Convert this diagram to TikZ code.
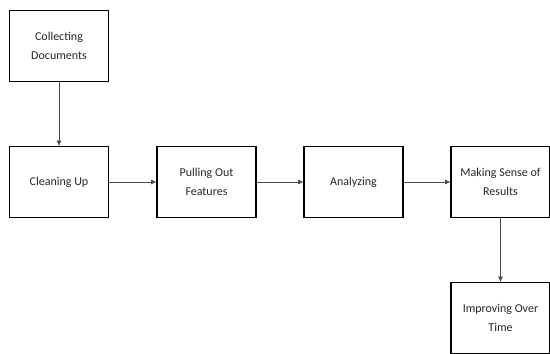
\documentclass[tikz,border=0pt]{standalone}
\usepackage{fontspec}
\setmainfont{Carlito}
\usetikzlibrary{arrows.meta}
\tikzset{
  stepbox/.style={draw=black, line width=1.8pt, minimum width=99pt, minimum height=71pt, align=center, inner sep=0pt, font=\fontsize{12}{19.5}\selectfont, text=black!85},
  flow/.style={draw=black!70, line width=0.7pt, -{Triangle[length=5pt,width=4.5pt]}}
}
\begin{document}
\begin{tikzpicture}[x=1pt,y=-1pt]
\useasboundingbox (0,0) rectangle (550,354);
\node[stepbox] (collect) at (59,46) {Collecting\\Documents};
\node[stepbox] (clean) at (59,182) {Cleaning Up};
\node[stepbox] (pull) at (206.5,182) {Pulling Out\\Features};
\node[stepbox] (analyze) at (353.5,182) {Analyzing};
\node[stepbox] (sense) at (500.5,182) {Making Sense of\\Results};
\node[stepbox] (improve) at (500.5,318) {Improving Over\\Time};
\draw[flow] (collect) -- (clean);
\draw[flow] (clean) -- (pull);
\draw[flow] (pull) -- (analyze);
\draw[flow] (analyze) -- (sense);
\draw[flow] (sense) -- (improve);
\end{tikzpicture}
\end{document}
